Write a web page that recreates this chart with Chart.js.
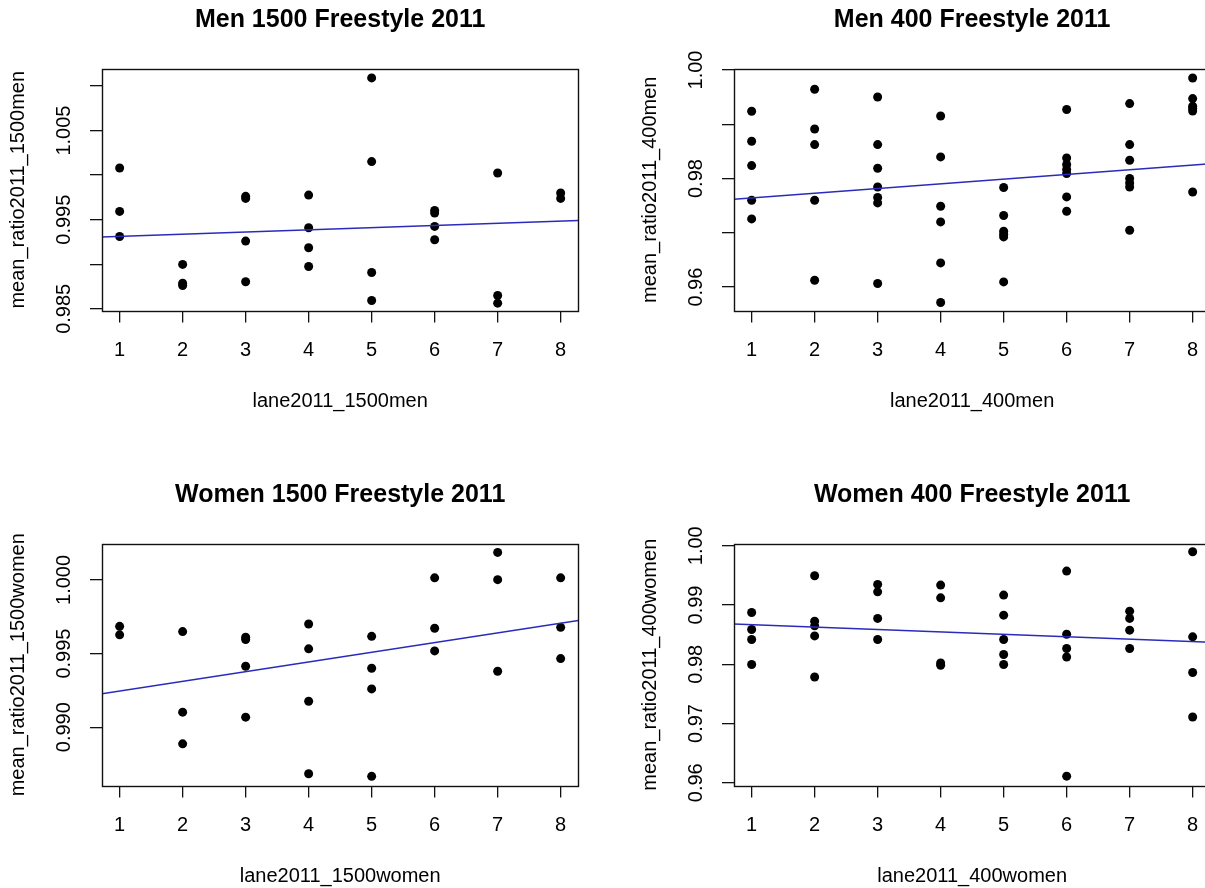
<!DOCTYPE html>
<html>
<head>
<meta charset="utf-8">
<title>Freestyle 2011 – lane vs mean ratio</title>
<script src="https://cdn.jsdelivr.net/npm/chart.js@4.4.1/dist/chart.umd.min.js"></script>
<style>
  html, body { margin: 0; padding: 0; background: #fff; overflow: hidden; }
  #figure { position: relative; width: 1205px; height: 888px; overflow: hidden; background: #fff; }
  #figure canvas { position: absolute; }
</style>
</head>
<body>
<div id="figure">
  <canvas id="men1500" width="632" height="475" style="left:0px;top:0px"></canvas>
  <canvas id="men400" width="632" height="475" style="left:632px;top:0px"></canvas>
  <canvas id="women1500" width="632" height="475" style="left:0px;top:475px"></canvas>
  <canvas id="women400" width="632" height="475" style="left:632px;top:475px"></canvas>
</div>
<script>
// ---- shared x axis: lanes ----
const lanes = [1, 2, 3, 4, 5, 6, 7, 8];
const laneTickLabels = ['1', '2', '3', '4', '5', '6', '7', '8'];
const laneLimits = [0.72, 8.28];

// ---- Men 1500 m: mean ratio per swimmer, grouped by lane ----
const men1500Ratio = [
  [1.0008, 0.99593, 0.99312],
  [0.98998, 0.98788, 0.98762],
  [0.99762, 0.99739, 0.9926, 0.98803],
  [0.99776, 0.9941, 0.99185, 0.98975],
  [1.01091, 1.00152, 0.98908, 0.98593],
  [0.99604, 0.99574, 0.99425, 0.99275],
  [1.00024, 0.98649, 0.98563],
  [0.99799, 0.99739]
];
const men1500YTicks = [0.985, 0.990, 0.995, 1.000, 1.005, 1.010];
const men1500YTickLabels = ['0.985', '', '0.995', '', '1.005', ''];
const men1500YLimits = [0.98481, 1.01191];
const men1500Fit = [0.99287, 0.000245];   // intercept, slope

// ---- Men 400 m ----
const men400Ratio = [
  [0.99239, 0.98687, 0.98239, 0.976, 0.97256],
  [0.99645, 0.98913, 0.98626, 0.976, 0.96127],
  [0.99503, 0.98626, 0.9819, 0.97845, 0.9765, 0.97551, 0.96066],
  [0.99153, 0.98398, 0.9749, 0.97201, 0.96446, 0.95716],
  [0.97834, 0.97319, 0.9703, 0.96974, 0.96925, 0.96096],
  [0.99271, 0.98379, 0.98258, 0.98166, 0.98092, 0.97661, 0.97398],
  [0.99381, 0.98626, 0.98337, 0.98, 0.97919, 0.97845, 0.97048],
  [0.99853, 0.99473, 0.99332, 0.99289, 0.99245, 0.97753]
];
const men400YTicks = [0.96, 0.97, 0.98, 0.99, 1.00];
const men400YTickLabels = ['0.96', '', '0.98', '', '1.00'];
const men400YLimits = [0.95569, 1.00018];
const men400Fit = [0.97557, 0.000863];

// ---- Women 1500 m ----
const women1500Ratio = [
  [0.99685, 0.99627],
  [0.99649, 0.99102, 0.98887],
  [0.99611, 0.99595, 0.99414, 0.99068],
  [0.99701, 0.99532, 0.99176, 0.98684],
  [0.99617, 0.994, 0.9926, 0.98666],
  [1.00014, 0.99672, 0.99518],
  [1.00187, 1.00002, 0.9938],
  [1.00014, 0.99678, 0.99466]
];
const women1500YTicks = [0.990, 0.995, 1.000];
const women1500YTickLabels = ['0.990', '0.995', '1.000'];
const women1500YLimits = [0.98604, 1.00244];
const women1500Fit = [0.9918, 0.000657];

// ---- Women 400 m ----
const women400Ratio = [
  [0.98874, 0.98587, 0.98418, 0.97995],
  [0.99493, 0.98727, 0.98648, 0.98478, 0.97785],
  [0.99347, 0.99222, 0.98773, 0.98418],
  [0.99336, 0.99121, 0.98022, 0.97983],
  [0.99167, 0.98828, 0.98418, 0.98164, 0.97995],
  [0.99572, 0.98507, 0.98265, 0.98123, 0.96112],
  [0.98896, 0.98773, 0.98575, 0.98265],
  [0.99899, 0.98462, 0.9786, 0.97109]
];
const women400YTicks = [0.96, 0.97, 0.98, 0.99, 1.00];
const women400YTickLabels = ['0.96', '0.97', '0.98', '0.99', '1.00'];
const women400YLimits = [0.95954, 1.00029];
const women400Fit = [0.9871, -0.000407];

// ---- drawing ----
const FONT = '"Liberation Sans", Arial, Helvetica, sans-serif';
const INK = '#000';
const FIT_COLOR = '#2b2bbb';

// Plot frame drawn around the chart area, like box() in base graphics.
const frame = {
  id: 'frame',
  afterDatasetsDraw(chart) {
    const { ctx, chartArea: a } = chart;
    ctx.save();
    ctx.strokeStyle = '#111';
    ctx.lineWidth = 1.4;
    ctx.strokeRect(Math.round(a.left) + 0.5, Math.round(a.top) + 0.5,
                   Math.round(a.right - a.left), Math.round(a.bottom - a.top));
    ctx.restore();
  }
};

const measureCtx = document.createElement('canvas').getContext('2d');
measureCtx.font = '20px ' + FONT;
function widestLabel(labels) {
  return Math.max(...labels.map(t => measureCtx.measureText(t).width));
}

function panel(id, title, xLabel, yLabel, ratio, yTicks, yTickLabels, yLimits, fit) {
  const points = [];
  ratio.forEach((vals, i) => vals.forEach(v => points.push({ x: lanes[i], y: v })));
  const line = laneLimits.map(x => ({ x: x, y: fit[0] + fit[1] * x }));
  // centre the upright tick labels 37.5px left of the frame
  const yPad = 25.5 - widestLabel(yTickLabels) / 2;

  new Chart(document.getElementById(id), {
    type: 'scatter',
    data: {
      datasets: [
        { data: line, showLine: true, borderColor: FIT_COLOR, borderWidth: 1.5,
          pointRadius: 0, fill: false },
        { data: points, pointRadius: 4.5, pointStyle: 'circle',
          backgroundColor: INK, borderWidth: 0 }
      ]
    },
    options: {
      responsive: false,
      animation: false,
      devicePixelRatio: 1,
      events: [],
      layout: { padding: { left: 2, top: 0, right: 53.7, bottom: 54.5 } },
      plugins: {
        legend: { display: false },
        tooltip: { enabled: false },
        title: {
          display: true, text: title, fullSize: false, color: INK,
          font: { family: FONT, size: 25, weight: 'bold', lineHeight: 1.2 },
          padding: { top: 5.3, bottom: 33.7 }
        }
      },
      scales: {
        x: {
          type: 'linear', bounds: 'data',
          min: laneLimits[0], max: laneLimits[1],
          afterFit: s => { s.height = 110; },
          afterBuildTicks: s => { s.ticks = lanes.map(v => ({ value: v })); },
          ticks: {
            autoSkip: false, minRotation: 0, maxRotation: 0,
            color: INK, font: { family: FONT, size: 20 }, padding: 15.5,
            callback: (v, i) => laneTickLabels[i]
          },
          grid: { drawOnChartArea: false, drawTicks: true, tickLength: 12,
                  color: '#111', lineWidth: 1.3 },
          border: { display: false },
          title: { display: true, text: xLabel, color: INK,
                   font: { family: FONT, size: 20, lineHeight: 1.2 },
                   padding: { top: 0, bottom: 7.4 } }
        },
        y: {
          type: 'linear', bounds: 'data',
          min: yLimits[0], max: yLimits[1],
          afterFit: s => { s.width = 100; },
          afterBuildTicks: s => { s.ticks = yTicks.map(v => ({ value: v })); },
          ticks: {
            autoSkip: false, minRotation: 90, maxRotation: 90, crossAlign: 'center',
            color: INK, font: { family: FONT, size: 20 }, padding: yPad,
            callback: (v, i) => yTickLabels[i]
          },
          grid: { drawOnChartArea: false, drawTicks: true, tickLength: 12,
                  color: '#111', lineWidth: 1.3 },
          border: { display: false },
          title: { display: true, text: yLabel, color: INK,
                   font: { family: FONT, size: 20, lineHeight: 1.2 },
                   padding: { top: 4.1, bottom: 0 } }
        }
      }
    },
    plugins: [frame]
  });
}

panel('men1500', 'Men 1500 Freestyle 2011', 'lane2011_1500men', 'mean_ratio2011_1500men',
      men1500Ratio, men1500YTicks, men1500YTickLabels, men1500YLimits, men1500Fit);
panel('men400', 'Men 400 Freestyle 2011', 'lane2011_400men', 'mean_ratio2011_400men',
      men400Ratio, men400YTicks, men400YTickLabels, men400YLimits, men400Fit);
panel('women1500', 'Women 1500 Freestyle 2011', 'lane2011_1500women', 'mean_ratio2011_1500women',
      women1500Ratio, women1500YTicks, women1500YTickLabels, women1500YLimits, women1500Fit);
panel('women400', 'Women 400 Freestyle 2011', 'lane2011_400women', 'mean_ratio2011_400women',
      women400Ratio, women400YTicks, women400YTickLabels, women400YLimits, women400Fit);
</script>
</body>
</html>
